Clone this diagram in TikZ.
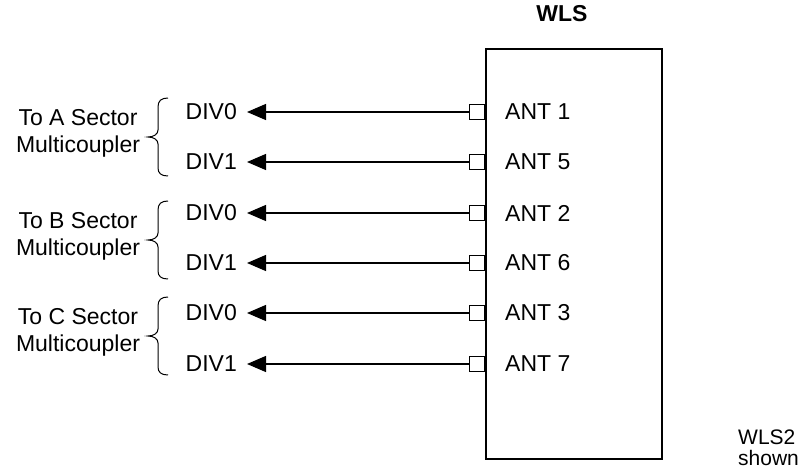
\documentclass[tikz,border=0pt]{standalone}
\usepackage{fontspec}
\setmainfont{Liberation Sans}
\usetikzlibrary{arrows.meta}
\begin{document}
\begin{tikzpicture}[x=1pt,y=-1pt,
  txt/.style={font=\fontsize{23}{27}\selectfont, inner sep=0pt},
  port/.style={draw, line width=1.2pt, fill=white, minimum width=15pt, minimum height=15pt, inner sep=0pt},
  conn/.style={line width=1.2pt, -{Triangle[length=19pt,width=16pt]}},
  bracepath/.style={line width=1pt}]
\useasboundingbox (0,0) rectangle (804,476);
\node[txt, font=\fontsize{23}{27}\selectfont\bfseries] (title) at (562,14) {WLS};
\node[draw, line width=1.8pt, minimum width=176pt, minimum height=410pt, inner sep=0pt, anchor=north west] (wls) at (485,48) {};
\foreach \y/\ant/\div/\n in {112/1/0/a, 162/5/1/b, 213/2/0/c, 263/6/1/d, 313/3/0/e, 364/7/1/f}{
  \node[port, anchor=east] (p\n) at (485,\y) {};
  \node[txt, anchor=west] (ant\n) at (505,\y) {ANT \ant};
  \node[txt, anchor=east] (div\n) at (237,\y) {DIV\div};
  \coordinate (tip\n) at (247,\y);
  \draw[conn] (p\n.west) -- (tip\n);
}
\foreach \c/\s in {137/A, 240/B, 336/C}{
  \draw[bracepath] (168,\c-39) .. controls (161,\c-39) and (158,\c-36) .. (158,\c-30) -- (158,\c-7) .. controls (158,\c-3) and (154,\c) .. (148,\c) .. controls (154,\c) and (158,\c+3) .. (158,\c+7) -- (158,\c+31) .. controls (158,\c+36) and (161,\c+39) .. (168,\c+39);
  \node[txt, align=center] (lab\s) at (78,\c-4) {To \s{} Sector\\Multicoupler};
}
\node[txt, font=\fontsize{21}{21}\selectfont, align=left, anchor=north west] (note) at (738,430) {WLS2\\shown};
\end{tikzpicture}
\end{document}
